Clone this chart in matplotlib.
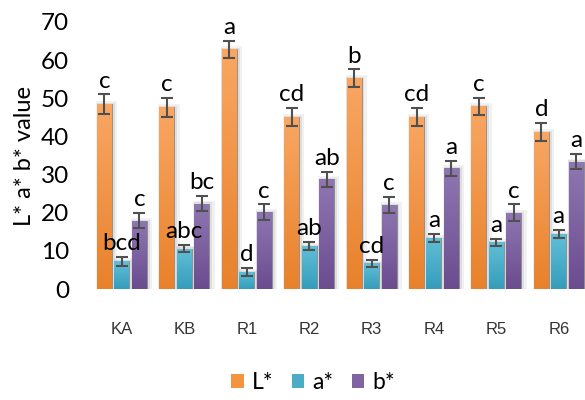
import numpy as np
import matplotlib
matplotlib.use("Agg")
import matplotlib.pyplot as plt
from matplotlib.colors import LinearSegmentedColormap
from matplotlib.patches import Patch

categories = ["KA", "KB", "R1", "R2", "R3", "R4", "R5", "R6"]
L_vals = [48.4, 47.7, 62.8, 45.1, 55.3, 45.1, 47.9, 41.2]
L_err = [2.6, 2.5, 2.3, 2.4, 2.3, 2.4, 2.3, 2.4]
a_vals = [7.3, 10.6, 4.5, 11.3, 6.7, 13.4, 12.2, 14.4]
a_err = [1.2, 1.0, 1.0, 1.1, 1.0, 1.0, 1.0, 1.0]
b_vals = [17.9, 22.4, 20.2, 28.8, 22.0, 31.6, 20.0, 33.4]
b_err = [2.0, 2.0, 2.0, 2.0, 2.2, 2.0, 2.2, 2.0]
L_letters = ["c", "c", "a", "cd", "b", "cd", "c", "d"]
a_letters = ["bcd", "abc", "d", "ab", "cd", "a", "a", "a"]
b_letters = ["c", "bc", "c", "ab", "c", "a", "c", "a"]
series_names = ["L*", "a*", "b*"]

plt.rcParams['font.family'] = ['Lato', 'DejaVu Sans']

fig = plt.figure(figsize=(5.85, 4.0), dpi=100)
ax = fig.add_axes([92/585, 1 - 289/400, 1 - 92/585, (289 - 22)/400])

x = np.arange(len(categories))
width = 0.24
pitch = 0.28
series = [
    (L_vals, L_err, L_letters, "#F9A763", "#E8812B", -pitch),
    (a_vals, a_err, a_letters, "#62BFD7", "#349DBB", 0.0),
    (b_vals, b_err, b_letters, "#8F77B2", "#6B4C8F", pitch),
]

for vals, errs, letters, ctop, cbot, off in series:
    xs = x + off
    # soft shadow
    ax.bar(xs + 0.035, np.array(vals) + 0.8, width + 0.10,
           color="#a0a0a0", alpha=0.14, zorder=1, linewidth=0)
    ax.bar(xs + 0.02, np.array(vals) + 0.3, width + 0.05,
           color="#8a8a8a", alpha=0.18, zorder=1, linewidth=0)
    bars = ax.bar(xs, vals, width, color=cbot, edgecolor="#8c8c8c",
                  linewidth=0.6, zorder=2)
    cmap = LinearSegmentedColormap.from_list("g", [cbot, ctop])
    grad = np.linspace(0, 1, 256).reshape(-1, 1)
    for b in bars:
        bx, by = b.get_x(), b.get_y()
        bw, bh = b.get_width(), b.get_height()
        im = ax.imshow(grad, cmap=cmap, aspect="auto", origin="lower",
                       extent=[bx, bx + bw, by, by + bh], zorder=2.5)
        im.set_clip_path(b)
    ax.errorbar(xs, vals, yerr=errs, fmt="none", ecolor="#505050",
                elinewidth=1.5, capsize=4.5, capthick=1.5, zorder=4)
    for xi, v, e, t in zip(xs, vals, errs, letters):
        ax.annotate(t, (xi, v + e), xytext=(0, 2), textcoords="offset points",
                    ha="center", va="bottom", fontsize=17.5, color="black",
                    zorder=5, annotation_clip=False)

ax.set_xlim(-0.48, 7.42)
ax.set_ylim(0, 70)
ax.set_yticks(np.arange(0, 71, 10))
ax.tick_params(axis="y", length=0, pad=16.5, labelsize=17.5)
ax.set_xticks(x)
ax.set_xticklabels(categories, fontfamily="Liberation Sans", fontsize=12,
                   color="#333333")
ax.tick_params(axis="x", length=0, pad=24)
for s in ax.spines.values():
    s.set_visible(False)
ax.set_ylabel("L* a* b* value", fontsize=17, labelpad=4)

handles = [Patch(facecolor=c, edgecolor="none") for c in ["#F5943F", "#4BACC6", "#8064A2"]]
fig.legend(handles, series_names, loc="center", bbox_to_anchor=(0.535, 0.043),
           ncol=3, frameon=False, fontsize=16.5, handlelength=0.55, handleheight=0.55,
           handletextpad=0.35, columnspacing=0.8)

fig.savefig("out.png", dpi=100)
